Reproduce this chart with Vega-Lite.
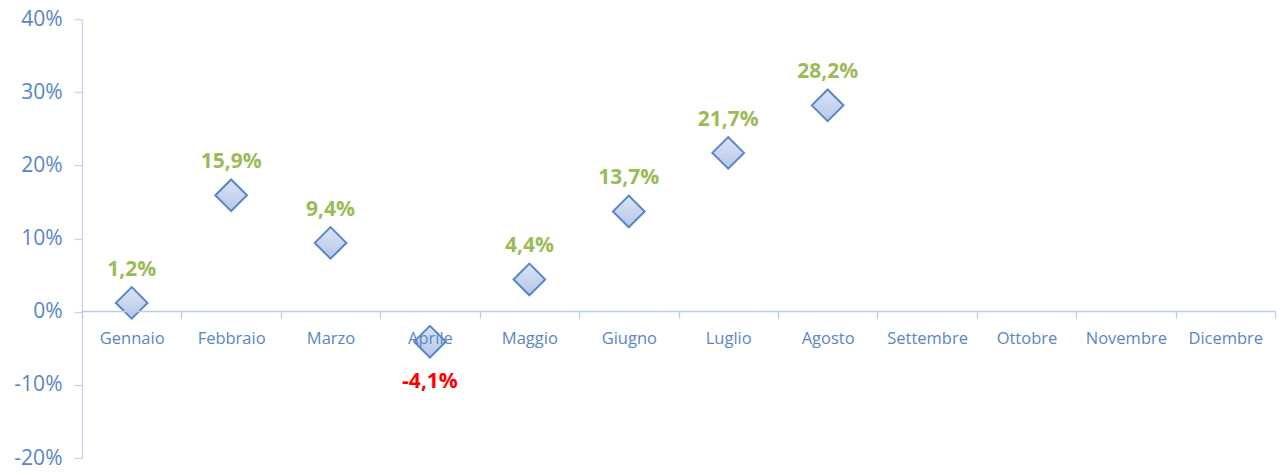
{
  "$schema": "https://vega.github.io/schema/vega-lite/v6.json",
  "width": 1193,
  "height": 439,
  "autosize": {"type": "none"},
  "padding": {"left": 82, "top": 19, "right": 4, "bottom": 15},
  "background": "white",
  "config": {"view": {"stroke": null}, "font": "Open Sans"},
  "data": {
    "values": [
      {"mese": "Gennaio", "valore": 1.2, "etichetta": "1,2%"},
      {"mese": "Febbraio", "valore": 15.9, "etichetta": "15,9%"},
      {"mese": "Marzo", "valore": 9.4, "etichetta": "9,4%"},
      {"mese": "Aprile", "valore": -4.1, "etichetta": "-4,1%"},
      {"mese": "Maggio", "valore": 4.4, "etichetta": "4,4%"},
      {"mese": "Giugno", "valore": 13.7, "etichetta": "13,7%"},
      {"mese": "Luglio", "valore": 21.7, "etichetta": "21,7%"},
      {"mese": "Agosto", "valore": 28.2, "etichetta": "28,2%"},
      {"mese": "Settembre", "valore": null, "etichetta": ""},
      {"mese": "Ottobre", "valore": null, "etichetta": ""},
      {"mese": "Novembre", "valore": null, "etichetta": ""},
      {"mese": "Dicembre", "valore": null, "etichetta": ""}
    ]
  },
  "encoding": {
    "x": {
      "field": "mese",
      "type": "nominal",
      "sort": null,
      "scale": {
        "domain": ["Gennaio", "Febbraio", "Marzo", "Aprile", "Maggio", "Giugno", "Luglio", "Agosto", "Settembre", "Ottobre", "Novembre", "Dicembre"],
        "paddingInner": 0,
        "paddingOuter": 0
      },
      "axis": {
        "title": null,
        "offset": -147,
        "labelAngle": 0,
        "labelFont": "Open Sans",
        "labelFontSize": 16.5,
        "labelColor": "#5A86C4",
        "labelPadding": 12,
        "domainColor": "#BCCDE6",
        "domainWidth": 1.3,
        "tickColor": "#BCCDE6",
        "tickSize": 7,
        "tickWidth": 1.3,
        "tickBand": "extent",
        "zindex": 1
      }
    },
    "y": {
      "field": "valore",
      "type": "quantitative",
      "scale": {"domain": [-20, 40], "nice": false, "zero": false},
      "axis": {
        "title": null,
        "values": [-20, -10, 0, 10, 20, 30, 40],
        "labelExpr": "datum.value + '%'",
        "grid": false,
        "labelFont": "Open Sans",
        "labelFontSize": 21,
        "labelColor": "#5A86C4",
        "labelPadding": 12,
        "domainColor": "#C5D5EA",
        "domainWidth": 1.3,
        "tickColor": "#C5D5EA",
        "tickSize": 8,
        "tickWidth": 1.3
      }
    }
  },
  "layer": [
    {
      "transform": [{"filter": "datum.valore != null"}],
      "mark": {
        "type": "point",
        "shape": "diamond",
        "size": 1000,
        "filled": true,
        "opacity": 1,
        "fill": {
          "gradient": "linear",
          "x1": 0, "y1": 0, "x2": 0, "y2": 1,
          "stops": [
            {"offset": 0, "color": "#DAE4F4"},
            {"offset": 1, "color": "#B5C8E9"}
          ]
        },
        "stroke": "#5B86C5",
        "strokeWidth": 2
      }
    },
    {
      "transform": [{"filter": "datum.valore != null && datum.valore >= 0"}],
      "mark": {
        "type": "text",
        "dy": -33,
        "font": "Open Sans",
        "fontSize": 21,
        "fontWeight": "bold",
        "color": "#9BBB59",
        "baseline": "middle"
      },
      "encoding": {"text": {"field": "etichetta"}}
    },
    {
      "transform": [{"filter": "datum.valore != null && datum.valore < 0"}],
      "mark": {
        "type": "text",
        "dy": 40,
        "font": "Open Sans",
        "fontSize": 21,
        "fontWeight": "bold",
        "color": "#FF0000",
        "baseline": "middle"
      },
      "encoding": {"text": {"field": "etichetta"}}
    }
  ]
}
